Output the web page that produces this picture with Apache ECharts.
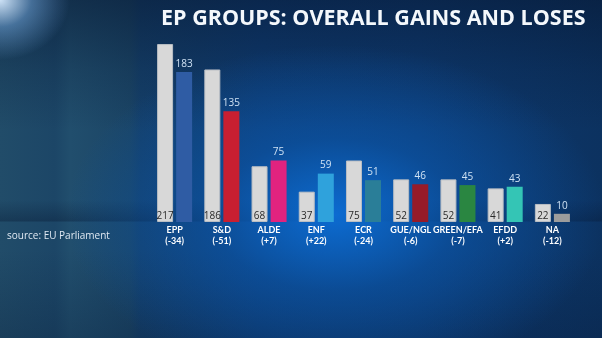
<!DOCTYPE html>
<html><head><meta charset="utf-8">
<script src="https://cdn.jsdelivr.net/npm/echarts@6/dist/echarts.min.js"></script>
<style>
html,body{margin:0;padding:0;width:602px;height:338px;overflow:hidden;}
body{
background:
 radial-gradient(ellipse 70px 60px at 0px 0px, rgba(215,235,255,0.95) 0%, rgba(120,175,230,0.5) 45%, rgba(60,120,190,0) 100%),
 radial-gradient(ellipse 270px 170px at 335px 215px, rgba(12,110,215,0.95) 0%, rgba(10,88,175,0.6) 45%, rgba(10,70,150,0) 100%),
 linear-gradient(to bottom, rgba(6,22,48,0) 0px, rgba(6,22,48,0) 200px, rgba(6,22,48,0.35) 221px, rgba(6,22,48,0) 222px),
 linear-gradient(to bottom, rgba(6,22,48,0.55) 0px, rgba(6,22,48,0.2) 70px, rgba(6,22,48,0) 130px, rgba(6,22,48,0) 250px, rgba(6,22,48,0.25) 338px),
 linear-gradient(to right, #214c69 0px, #1c4667 55px, #214e6d 70px, #1b4566 130px, #15406a 140px, #123d6c 200px, #0f3c72 260px, #0e3a70 420px, #0c3260 602px);
}
#c{width:602px;height:338px;}
</style></head>
<body><div id="c"></div>
<script>
const categories = ['EPP','S&D','ALDE','ENF','ECR','GUE/NGL','GREEN/EFA','EFDD','NA'];
const changes = ['-34','-51','+7','+22','-24','-6','-7','+2','-12'];
const seats2014 = [217,186,68,37,75,52,52,41,22];
const seats2019 = [183,135,75,59,51,46,45,43,10];
const groupColors = ['#2f5ca4','#c81f31','#e1237f','#2fa2dc','#2a7e98','#961b29','#2a8641','#34c5b5','#9c9c9c'];

const chart = echarts.init(document.getElementById('c'), null, {renderer:'canvas'});
chart.setOption({
  backgroundColor: 'transparent',
  animation: false,
  title: {
    text: 'EP GROUPS: OVERALL GAINS AND LOSES',
    left: 156, top: 3,
    textStyle: {color:'#f4f8fc', fontSize: 21.5, fontWeight: 'bold', fontFamily: 'Open Sans'}
  },
  graphic: [{
    type: 'text', left: 7, top: 231,
    style: {text: 'source: EU Parliament', fill: '#dfe8f2', fontSize: 10, fontFamily: 'Open Sans'}
  }],
  grid: {left: 151, right: 26, top: 17, bottom: 116},
  xAxis: {
    type: 'category', data: categories,
    axisLine: {show: false}, axisTick: {show: false},
    axisLabel: {
      interval: 0, margin: 3, color: '#ffffff', fontSize: 9, fontWeight: 'bold',
      fontFamily: 'Lato', lineHeight: 10.5,
      formatter: (v, i) => v + '\n(' + changes[i] + ')'
    }
  },
  yAxis: {type: 'value', min: 0, max: 250, show: false, splitLine: {show: false}},
  series: [
    {
      type: 'bar', data: seats2014, barWidth: 16, barGap: '19%',
      itemStyle: {color: '#d8d8d8', borderColor: '#b9bec4', borderWidth: 1},
      label: {show: true, position: 'insideBottom', distance: 1, color: '#2a2a2a', fontSize: 10, fontFamily: 'Open Sans'}
    },
    {
      type: 'bar', data: seats2019.map((v, i) => ({value: v, itemStyle: {color: groupColors[i]}})),
      barWidth: 16,
      label: {show: true, position: 'top', distance: 3, color: '#cfe2f4', fontSize: 10, fontFamily: 'Open Sans'}
    }
  ]
});
</script>
</body></html>
